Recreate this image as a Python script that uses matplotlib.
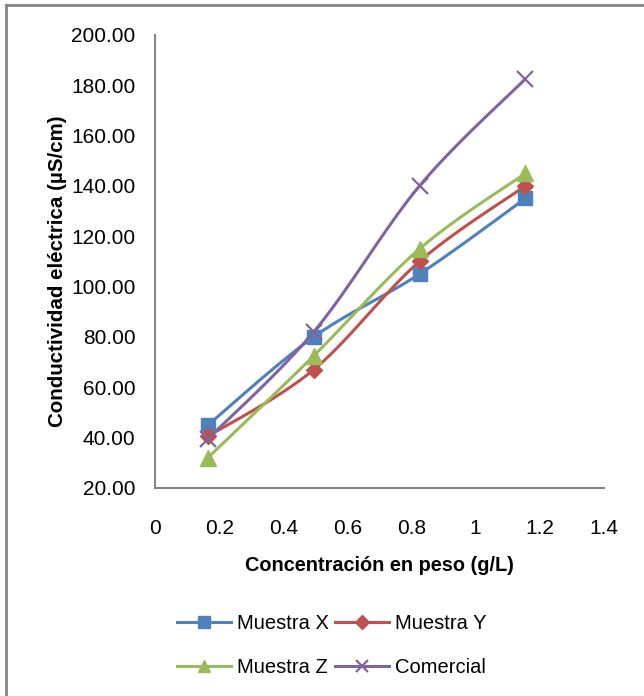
import numpy as np
import matplotlib
matplotlib.use("Agg")
import matplotlib.pyplot as plt
from matplotlib.lines import Line2D

plt.rcParams['font.family'] = ['Liberation Sans', 'DejaVu Sans']

# datos
conc = [0.165, 0.495, 0.825, 1.155]
muestra_x = [45.0, 80.0, 105.0, 135.0]
muestra_y = [40.5, 67.0, 110.0, 140.0]
muestra_z = [32.0, 72.5, 115.0, 145.0]
comercial = [39.5, 82.0, 140.0, 182.5]

series = [
    ("Muestra X", muestra_x, '#4F81BD', 's', 10),
    ("Muestra Y", muestra_y, '#C0504D', 'D', 8),
    ("Muestra Z", muestra_z, '#9BBB59', '^', 11),
    ("Comercial", comercial, '#8064A2', 'x', 11),
]


def suavizar(x, y, n=40):
    # curva tipo Excel (Bezier con puntos de control 1/6)
    x = np.asarray(x, float)
    y = np.asarray(y, float)
    p = np.column_stack([x, y])
    out = [p[0]]
    t = np.linspace(0, 1, n)[1:]
    for i in range(len(p) - 1):
        p0 = p[i - 1] if i > 0 else p[i]
        p1 = p[i]
        p2 = p[i + 1]
        p3 = p[i + 2] if i + 2 < len(p) else p[i + 1]
        c1 = p1 + (p2 - p0) / 6
        c2 = p2 - (p3 - p1) / 6
        seg = ((1 - t)[:, None] ** 3 * p1 + 3 * ((1 - t) ** 2 * t)[:, None] * c1
               + 3 * ((1 - t) * t ** 2)[:, None] * c2 + (t ** 3)[:, None] * p2)
        out.extend(seg)
    out = np.array(out)
    return out[:, 0], out[:, 1]


fig = plt.figure(figsize=(6.44, 6.96), dpi=100)
ax = fig.add_axes([0.2407, 0.2989, 0.697, 0.651])

handles = []
for nombre, vals, color, mk, ms in series:
    xs, ys = suavizar(conc, vals)
    ax.plot(xs, ys, color=color, lw=2.2, solid_capstyle='round', zorder=2)
    if mk == 'x':
        ax.plot(conc, vals, ls='none', marker='x', ms=ms, mew=1.6, color=color, zorder=3)
    else:
        ax.plot(conc, vals, ls='none', marker=mk, ms=ms, color=color, mec=color, zorder=3)
    handles.append(Line2D([], [], color=color, lw=2.2, marker=mk, ms=ms * 0.85,
                          mew=1.6 if mk == 'x' else 1, label=nombre))

ax.set_xlim(0, 1.4)
ax.set_ylim(20, 200)
ax.set_xticks(np.arange(0, 1.41, 0.2))
ax.set_xticklabels(['0', '0.2', '0.4', '0.6', '0.8', '1', '1.2', '1.4'])
ax.set_yticks(np.arange(20, 201, 20))
ax.set_yticklabels(['%.2f' % v for v in np.arange(20, 201, 20)])
ax.tick_params(length=0, labelsize=15, colors='black')
ax.tick_params(axis='x', pad=22)
ax.tick_params(axis='y', pad=14)
for s in ['top', 'right']:
    ax.spines[s].set_visible(False)
for s in ['left', 'bottom']:
    ax.spines[s].set_color('#868686')
    ax.spines[s].set_linewidth(1.5)

ax.set_xlabel('Concentración en peso (g/L)', fontsize=14.3, fontweight='bold', labelpad=13)
ax.set_ylabel('Conductividad eléctrica (µS/cm)', fontsize=14.8, fontweight='bold')
ax.yaxis.set_label_coords(-0.195, 0.479)

# orden por filas como en la leyenda original
orden = [handles[0], handles[2], handles[1], handles[3]]
fig.legend(handles=orden, ncol=2, loc='center', bbox_to_anchor=(0.515, 0.073),
           frameon=False, fontsize=14.5, handlelength=2.7, handletextpad=0.3,
           columnspacing=0.3, labelspacing=1.25)

# borde del grafico
fig.add_artist(Line2D([0.009, 0.009], [0, 0.993], color='#868686', lw=2, transform=fig.transFigure))
fig.add_artist(Line2D([0.009, 1], [0.993, 0.993], color='#868686', lw=2, transform=fig.transFigure))

fig.savefig('out.png', dpi=100)
